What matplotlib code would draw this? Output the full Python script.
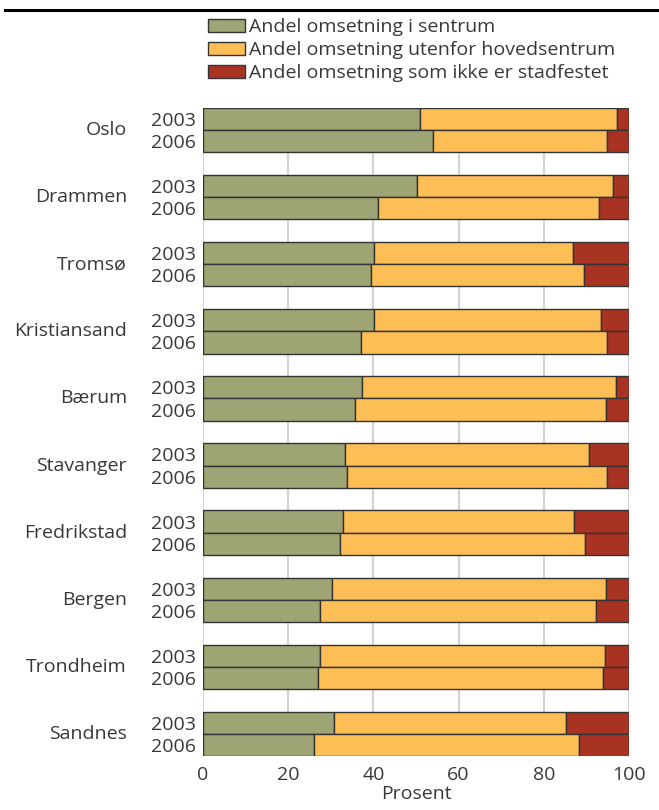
import numpy as np
import matplotlib
matplotlib.use("Agg")
import matplotlib.pyplot as plt
from matplotlib.patches import Patch
from matplotlib.lines import Line2D
from matplotlib.transforms import blended_transform_factory

plt.rcParams['font.family'] = ['Open Sans', 'DejaVu Sans']

# Andel omsetning (prosent) per by, 2003 og 2006
byer = ["Oslo", "Drammen", "Tromsø", "Kristiansand", "Bærum",
        "Stavanger", "Fredrikstad", "Bergen", "Trondheim", "Sandnes"]
aar = ["2003", "2006"]

sentrum_2003 = [51.0, 50.2, 40.2, 40.1, 37.4, 33.3, 32.9, 30.2, 27.5, 30.8]
sentrum_2006 = [54.0, 41.0, 39.4, 37.0, 35.6, 33.7, 32.2, 27.5, 26.9, 26.0]
utenfor_2003 = [46.3, 46.0, 46.7, 53.3, 59.5, 57.3, 54.3, 64.5, 66.9, 54.3]
utenfor_2006 = [40.9, 52.0, 50.1, 57.8, 59.0, 61.1, 57.4, 64.8, 67.1, 62.3]
ikke_2003 = [2.7, 3.8, 13.1, 6.6, 3.1, 9.4, 12.8, 5.3, 5.6, 14.9]
ikke_2006 = [5.1, 7.0, 10.5, 5.2, 5.4, 5.2, 10.4, 7.7, 6.0, 11.7]

serier = ["Andel omsetning i sentrum",
          "Andel omsetning utenfor hovedsentrum",
          "Andel omsetning som ikke er stadfestet"]
farger = ["#9ea474", "#fdbe55", "#a93323"]
tekstfarge = "#383838"
kant = "#333333"
fs = 14

fig = plt.figure(figsize=(6.59, 8.10), dpi=100)
ax = fig.add_axes([203 / 659, 1 - 756 / 810, 426 / 659, 648 / 810])

h = 0.33
grupper = np.arange(len(byer))
pos_2003 = grupper - h / 2
pos_2006 = grupper + h / 2

for pos, s, u, k in [(pos_2003, sentrum_2003, utenfor_2003, ikke_2003),
                     (pos_2006, sentrum_2006, utenfor_2006, ikke_2006)]:
    s = np.array(s)
    u = np.array(u)
    k = np.array(k)
    ax.barh(pos, s, height=h, color=farger[0], edgecolor=kant, linewidth=1, zorder=3)
    ax.barh(pos, u, left=s, height=h, color=farger[1], edgecolor=kant, linewidth=1, zorder=3)
    ax.barh(pos, k, left=s + u, height=h, color=farger[2], edgecolor=kant, linewidth=1, zorder=3)

ax.set_xlim(0, 100)
ax.set_ylim(len(byer) - 1 + h, -h)
ax.set_xticks(range(0, 101, 20))
ax.grid(axis='x', color='#d4d4d4', linewidth=1.6, zorder=0)
ax.set_axisbelow(True)
for sp in ax.spines.values():
    sp.set_visible(False)

ytikk = np.concatenate([pos_2003, pos_2006])
ylab = [aar[0]] * len(byer) + [aar[1]] * len(byer)
ax.set_yticks(ytikk)
ax.set_yticklabels(ylab)
ax.tick_params(axis='y', length=0, pad=5, labelsize=fs, labelcolor=tekstfarge)
ax.tick_params(axis='x', length=0, pad=7, labelsize=fs, labelcolor=tekstfarge)
ax.set_xlabel("Prosent", fontsize=fs, color=tekstfarge, labelpad=1)

# bynavn til venstre for årstallene
trans = blended_transform_factory(fig.transFigure, ax.transData)
for i, by in enumerate(byer):
    ax.text(127 / 659, i, by, transform=trans,
            ha='right', va='center', fontsize=fs, color=tekstfarge)

# tegnforklaring
handles = [Patch(facecolor=f, edgecolor=kant, linewidth=1) for f in farger]
fig.legend(handles, serier, loc='upper left', bbox_to_anchor=(208 / 659, 1 - 18 / 810),
           frameon=False, fontsize=fs, handlelength=1.9, handleheight=0.67,
           handletextpad=0.2, labelspacing=0.27, borderaxespad=0, borderpad=0,
           labelcolor=tekstfarge)

# svart linje øverst
fig.add_artist(Line2D([5 / 659, 1], [1 - 10 / 810, 1 - 10 / 810], transform=fig.transFigure,
                      color='black', linewidth=2.2))

fig.savefig("out.png", dpi=100)
